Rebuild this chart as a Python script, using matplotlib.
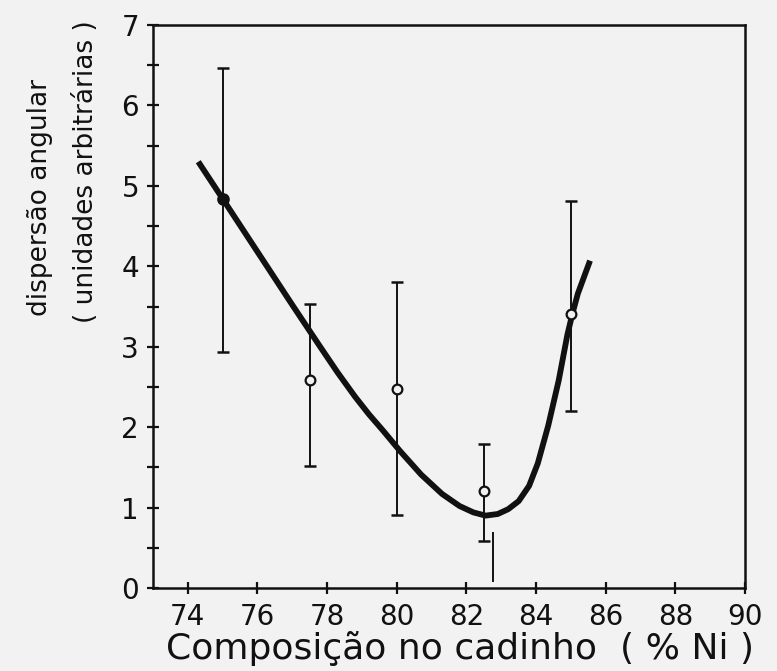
import matplotlib
matplotlib.use("Agg")
import matplotlib.pyplot as plt
from matplotlib.ticker import MultipleLocator

# ---- data ----
comp = [75.0, 77.5, 80.0, 82.5, 85.0]          # % Ni
disp = [4.84, 2.59, 2.48, 1.21, 3.41]          # dispersão angular
disp_hi = [6.46, 3.53, 3.80, 1.79, 4.81]       # top of error bar
disp_lo = [2.94, 1.52, 0.91, 0.59, 2.20]       # bottom of error bar
filled = [True, False, False, False, False]

curve_x = [74.3, 75.0, 76.0, 77.0, 77.8, 78.3, 78.8, 79.2, 79.6, 80.1, 80.7,
           81.3, 81.8, 82.2, 82.55, 82.9, 83.2, 83.5, 83.8, 84.05, 84.35,
           84.65, 84.9, 85.05, 85.2, 85.55]
curve_y = [5.30, 4.84, 4.18, 3.52, 3.00, 2.68, 2.38, 2.16, 1.96, 1.70, 1.41,
           1.17, 1.02, 0.94, 0.90, 0.92, 0.98, 1.08, 1.27, 1.55, 2.02,
           2.58, 3.15, 3.42, 3.66, 4.07]

mark_x = [82.77, 82.77]
mark_y = [0.69, 0.09]

xticks = [74, 76, 78, 80, 82, 84, 86, 88, 90]
yticks = [0, 1, 2, 3, 4, 5, 6, 7]

ink = "#111111"
bg = "#f2f2f2"

fig = plt.figure(figsize=(7.77, 6.71), dpi=100, facecolor=bg)
ax = fig.add_axes([153 / 777, (671 - 588) / 671, (745 - 153) / 777, (588 - 25) / 671])
ax.set_facecolor(bg)

ax.plot(curve_x, curve_y, color=ink, lw=4.2, solid_capstyle="butt",
        solid_joinstyle="round", zorder=3)

yerr_lo = [d - l for d, l in zip(disp, disp_lo)]
yerr_hi = [h - d for d, h in zip(disp, disp_hi)]
ax.errorbar(comp, disp, yerr=[yerr_lo, yerr_hi], fmt="none", ecolor=ink,
            elinewidth=1.4, capsize=4.3, capthick=1.8, zorder=2)

for x, y, f in zip(comp, disp, filled):
    ax.plot([x], [y], "o", ms=7.5 if f else 7, mfc=ink if f else bg,
            mec=ink, mew=1.6, zorder=4)

ax.plot(mark_x, mark_y, color=ink, lw=1.4, zorder=2)

ax.set_xlim(73, 90)
ax.set_ylim(0, 7)
ax.set_xticks(xticks)
ax.set_yticks(yticks)
ax.yaxis.set_minor_locator(MultipleLocator(0.5))

for s in ax.spines.values():
    s.set_color(ink)
    s.set_linewidth(1.8)

ax.tick_params(axis="both", which="both", direction="inout", colors=ink,
               width=1.6, labelsize=20)
ax.tick_params(axis="both", which="major", length=8)
ax.tick_params(axis="y", which="minor", length=8)
ax.tick_params(axis="x", pad=7)
ax.tick_params(axis="y", pad=6)

fig.text(460 / 777, 1 - 648 / 671, "Composição no cadinho  ( % Ni )",
         fontsize=26, color=ink, ha="center", va="center")

fig.text(40 / 777, 1 - 198 / 671, "dispersão angular", rotation=90,
         fontsize=19, color=ink, ha="center", va="center")
fig.text(86 / 777, 1 - 172 / 671, "( unidades arbitrárias )", rotation=90,
         fontsize=19, color=ink, ha="center", va="center")

fig.savefig("out.png", dpi=100, facecolor=bg)
